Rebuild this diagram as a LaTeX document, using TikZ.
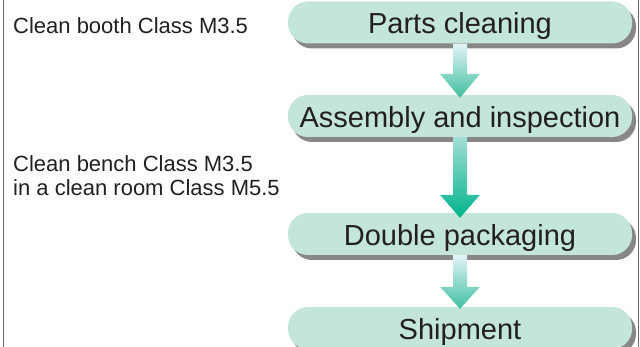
\documentclass[tikz,border=0pt]{standalone}
\usepackage{fontspec}
\setmainfont{Liberation Sans}
\usepackage{xcolor}
\usetikzlibrary{calc,shadows}

\definecolor{mint}{HTML}{C4E6DA}
\definecolor{inktext}{HTML}{231F20}
\definecolor{arrowtop}{HTML}{E4F3F8}
\definecolor{arrowlow}{HTML}{3EBF9F}
\definecolor{arrowdeep}{HTML}{00B48D}
\definecolor{framegray}{HTML}{6A6A6A}

\begin{document}
\begin{tikzpicture}[x=1pt, y=-1pt,
    stage/.style={rectangle, rounded corners=20pt, fill=mint, text=inktext,
        minimum width=344pt, minimum height=42pt, inner sep=0pt,
        text height=23pt, text depth=0pt,
        font=\fontsize{29}{32}\selectfont,
        drop shadow={shadow xshift=4pt, shadow yshift=-5pt, fill=black!47, opacity=1}},
    note/.style={anchor=north west, align=left, inner sep=0pt, text=inktext,
        font=\fontsize{22}{24}\selectfont}]
                \useasboundingbox (0,0) rectangle (640,347);

                % Frame sides
                \draw[framegray, line width=1.5pt] (3.5,0) -- (3.5,347);
                \draw[framegray, line width=1.5pt] (638.5,0) -- (638.5,347);

                % Rooms
                \node[note] (booth) at (13,17) {Clean booth Class M3.5};
                \node[note] (bench) at (13,155) {Clean bench Class M3.5\\in a clean room Class M5.5};

                % Stages
                \node[stage] (parts) at (460,22.5) {Parts cleaning};
                \node[stage] (assembly) at (460,116) {Assembly and inspection};
                \node[stage] (packaging) at (460,234) {Double packaging};
                \node[stage] (shipment) at (460,328) {Shipment};

                % Arrows
                \shade[top color=arrowtop, bottom color=arrowlow]
                    ($(parts.south)+(-7,0)$) -- ($(assembly.north)+(-7,-21)$) -- ($(assembly.north)+(-20,-21)$)
                    -- ($(assembly.north)+(0,3)$) -- ($(assembly.north)+(20,-21)$) -- ($(assembly.north)+(7,-21)$)
                    -- ($(parts.south)+(7,0)$) -- cycle;
                \shade[top color=arrowtop!60!arrowlow, bottom color=arrowdeep]
                    ($(assembly.south)+(-7,0)$) -- ($(packaging.north)+(-7,-18)$) -- ($(packaging.north)+(-20,-18)$)
                    -- ($(packaging.north)+(0,5)$) -- ($(packaging.north)+(20,-18)$) -- ($(packaging.north)+(7,-18)$)
                    -- ($(assembly.south)+(7,0)$) -- cycle;
                \shade[top color=arrowtop, bottom color=arrowlow]
                    ($(packaging.south)+(-7,0)$) -- ($(shipment.north)+(-7,-20)$) -- ($(shipment.north)+(-20,-20)$)
                    -- ($(shipment.north)+(0,2)$) -- ($(shipment.north)+(20,-20)$) -- ($(shipment.north)+(7,-20)$)
                    -- ($(packaging.south)+(7,0)$) -- cycle;
            \end{tikzpicture}
\end{document}
